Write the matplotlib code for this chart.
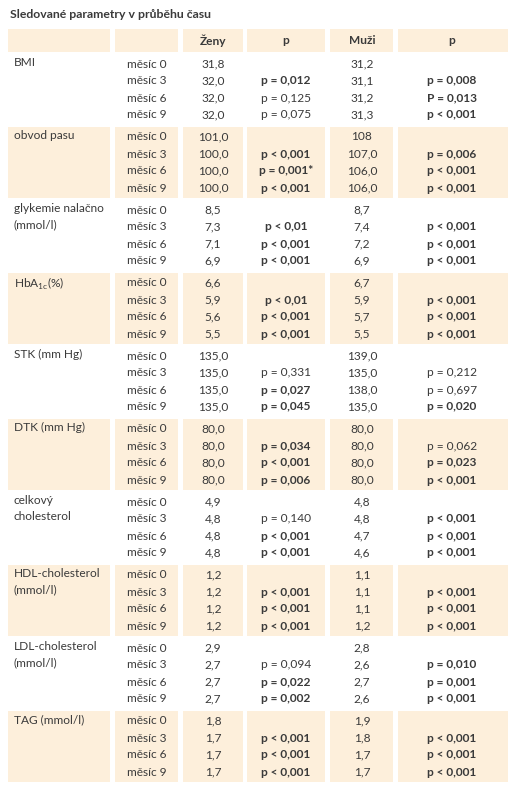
import matplotlib.pyplot as plt
from matplotlib.patches import Rectangle

plt.rcParams['font.family'] = ['Lato', 'DejaVu Sans']

title = 'Sledované parametry v průběhu času'
headers = ['Ženy', 'p', 'Muži', 'p']
months = ['měsíc 0', 'měsíc 3', 'měsíc 6', 'měsíc 9']
params = ['BMI', 'obvod pasu', 'glykemie nalačno\n(mmol/l)', 'HbA$_{\\mathregular{1c}}$(%)',
          'STK (mm Hg)', 'DTK (mm Hg)', 'celkový\ncholesterol', 'HDL-cholesterol\n(mmol/l)',
          'LDL-cholesterol\n(mmol/l)', 'TAG (mmol/l)']
zeny = [['31,8', '32,0', '32,0', '32,0'], ['101,0', '100,0', '100,0', '100,0'],
        ['8,5', '7,3', '7,1', '6,9'], ['6,6', '5,9', '5,6', '5,5'],
        ['135,0', '135,0', '135,0', '135,0'], ['80,0', '80,0', '80,0', '80,0'],
        ['4,9', '4,8', '4,8', '4,8'], ['1,2', '1,2', '1,2', '1,2'],
        ['2,9', '2,7', '2,7', '2,7'], ['1,8', '1,7', '1,7', '1,7']]
p_zeny = [['p = 0,012', 'p = 0,125', 'p = 0,075'], ['p < 0,001', 'p = 0,001*', 'p < 0,001'],
          ['p < 0,01', 'p < 0,001', 'p < 0,001'], ['p < 0,01', 'p < 0,001', 'p < 0,001'],
          ['p = 0,331', 'p = 0,027', 'p = 0,045'], ['p = 0,034', 'p < 0,001', 'p = 0,006'],
          ['p = 0,140', 'p < 0,001', 'p < 0,001'], ['p < 0,001', 'p < 0,001', 'p < 0,001'],
          ['p = 0,094', 'p = 0,022', 'p = 0,002'], ['p < 0,001', 'p < 0,001', 'p < 0,001']]
bold_zeny = [[1, 0, 0], [1, 1, 1], [1, 1, 1], [1, 1, 1], [0, 1, 1],
             [1, 1, 1], [0, 1, 1], [1, 1, 1], [0, 1, 1], [1, 1, 1]]
muzi = [['31,2', '31,1', '31,2', '31,3'], ['108', '107,0', '106,0', '106,0'],
        ['8,7', '7,4', '7,2', '6,9'], ['6,7', '5,9', '5,7', '5,5'],
        ['139,0', '135,0', '138,0', '135,0'], ['80,0', '80,0', '80,0', '80,0'],
        ['4,8', '4,8', '4,7', '4,6'], ['1,1', '1,1', '1,1', '1,2'],
        ['2,8', '2,6', '2,7', '2,6'], ['1,9', '1,8', '1,7', '1,7']]
p_muzi = [['p = 0,008', 'P = 0,013', 'p < 0,001'], ['p = 0,006', 'p < 0,001', 'p < 0,001'],
          ['p < 0,001', 'p < 0,001', 'p < 0,001'], ['p < 0,001', 'p < 0,001', 'p < 0,001'],
          ['p = 0,212', 'p = 0,697', 'p = 0,020'], ['p = 0,062', 'p = 0,023', 'p < 0,001'],
          ['p < 0,001', 'p < 0,001', 'p < 0,001'], ['p < 0,001', 'p < 0,001', 'p < 0,001'],
          ['p = 0,010', 'p = 0,001', 'p < 0,001'], ['p < 0,001', 'p < 0,001', 'p < 0,001']]
bold_muzi = [[1, 1, 1], [1, 1, 1], [1, 1, 1], [1, 1, 1], [0, 0, 1],
             [0, 1, 1], [1, 1, 1], [1, 1, 1], [1, 1, 1], [1, 1, 1]]

shade = '#fdefdb'
txt = '#3a3a3a'
fs = 8.6
# column boundaries in pixels
cols = [(8, 110), (115, 178), (183, 243), (247, 325), (330, 393), (398, 508)]
cx = [213, 286, 362, 452]

fig = plt.figure(figsize=(5.14, 8.0), dpi=100)
ax = fig.add_axes([0, 0, 1, 1])
ax.set_xlim(0, 514)
ax.set_ylim(800, 0)
ax.axis('off')

ax.text(10, 15, title, fontsize=8.8, fontweight='bold', color=txt, va='center')

# header
for x0, x1 in cols:
    ax.add_patch(Rectangle((x0, 29), x1 - x0, 23, color=shade, lw=0))
for x, h in zip(cx, headers):
    ax.text(x, 41, h, fontsize=fs, fontweight='bold', color=txt, ha='center', va='center')

for i, name in enumerate(params):
    top = 53 + 73 * i
    if i % 2 == 1:
        for x0, x1 in cols:
            ax.add_patch(Rectangle((x0, top + 1), x1 - x0, 71, color=shade, lw=0))
    ax.text(14, top + 11, name, fontsize=fs, color=txt, va='top' if '\n' in name else 'center',
            linespacing=1.45) if False else None
    ax.text(14, top + 4, name, fontsize=fs, color=txt, va='top', linespacing=1.55)
    for k in range(4):
        y = top + 11 + 17 * k
        ax.text(127, y, months[k], fontsize=fs, color=txt, va='center')
        ax.text(cx[0], y, zeny[i][k], fontsize=fs, color=txt, ha='center', va='center')
        ax.text(cx[2], y, muzi[i][k], fontsize=fs, color=txt, ha='center', va='center')
        if k > 0:
            ax.text(cx[1], y, p_zeny[i][k - 1], fontsize=fs, color=txt, ha='center', va='center',
                    fontweight='bold' if bold_zeny[i][k - 1] else 'normal')
            ax.text(cx[3], y, p_muzi[i][k - 1], fontsize=fs, color=txt, ha='center', va='center',
                    fontweight='bold' if bold_muzi[i][k - 1] else 'normal')

fig.savefig('out.png', dpi=100)
